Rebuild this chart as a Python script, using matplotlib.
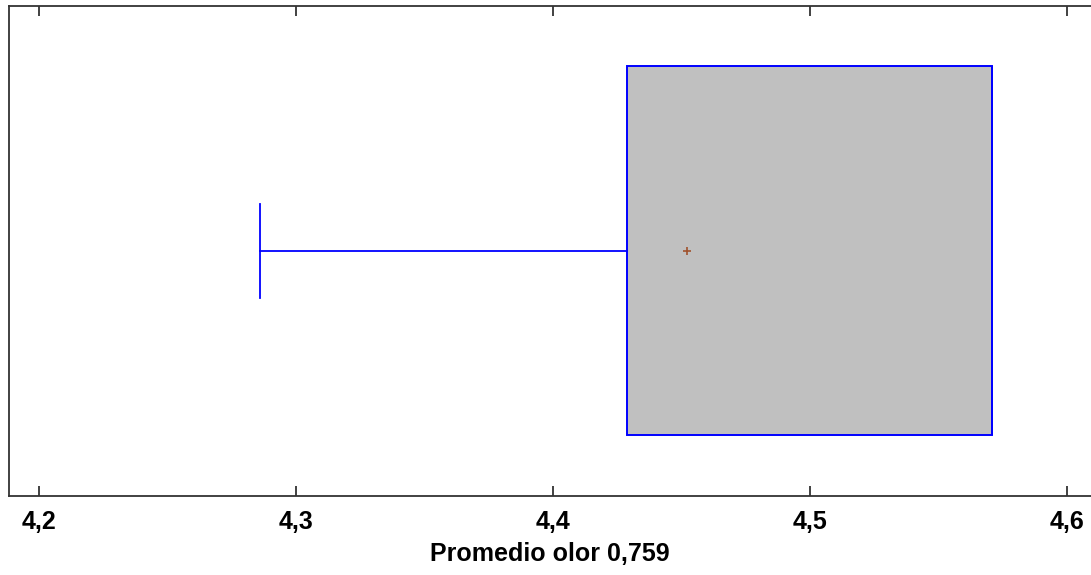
import matplotlib
matplotlib.use("Agg")
import matplotlib.pyplot as plt

# --- Data ---
whisker_low = 4.2860
q1 = 4.4286
median = 4.5707
q3 = 4.5707
whisker_high = 4.5707
mean = 4.452

tick_values = [4.2, 4.3, 4.4, 4.5, 4.6]
tick_labels = ["4,2", "4,3", "4,4", "4,5", "4,6"]
xlabel = "Promedio olor 0,759"

plt.rcParams["font.family"] = ["Liberation Sans", "DejaVu Sans"]

fig = plt.figure(figsize=(10.91, 5.75), dpi=100)
ax = fig.add_axes([0.0078, 0.1374, 0.9922, 0.8522])

stats = [{
    "whislo": whisker_low, "q1": q1, "med": median, "q3": q3,
    "whishi": whisker_high, "mean": mean, "fliers": [],
}]
ax.bxp(stats, positions=[0.5], widths=0.753, vert=False, patch_artist=True,
       showmeans=True, capwidths=0.19,
       boxprops=dict(facecolor="#c0c0c0", edgecolor="#0000ff", linewidth=1.4),
       whiskerprops=dict(color="#0000ff", linewidth=1.3),
       capprops=dict(color="#0000ff", linewidth=1.3),
       medianprops=dict(color="#0000ff", linewidth=1.4),
       meanprops=dict(marker="+", markeredgecolor="#a0522d", markersize=6,
                      markeredgewidth=1.2))

ax.set_xlim(4.1881, 4.6093)
ax.set_ylim(0, 1)
ax.set_yticks([])
ax.set_xticks(tick_values)
ax.set_xticklabels(tick_labels, fontsize=18, fontweight="bold")
ax.tick_params(axis="x", direction="in", length=7, width=1.3, top=True,
               pad=10, colors="#333333", labelcolor="black")
ax.set_xlabel(xlabel, fontsize=18, fontweight="bold", labelpad=6)
for s in ax.spines.values():
    s.set_linewidth(1.3)
    s.set_color("#333333")
# right edge of the frame falls outside the image in the reference
ax.spines["right"].set_visible(False)

fig.savefig("out.png", dpi=100)
